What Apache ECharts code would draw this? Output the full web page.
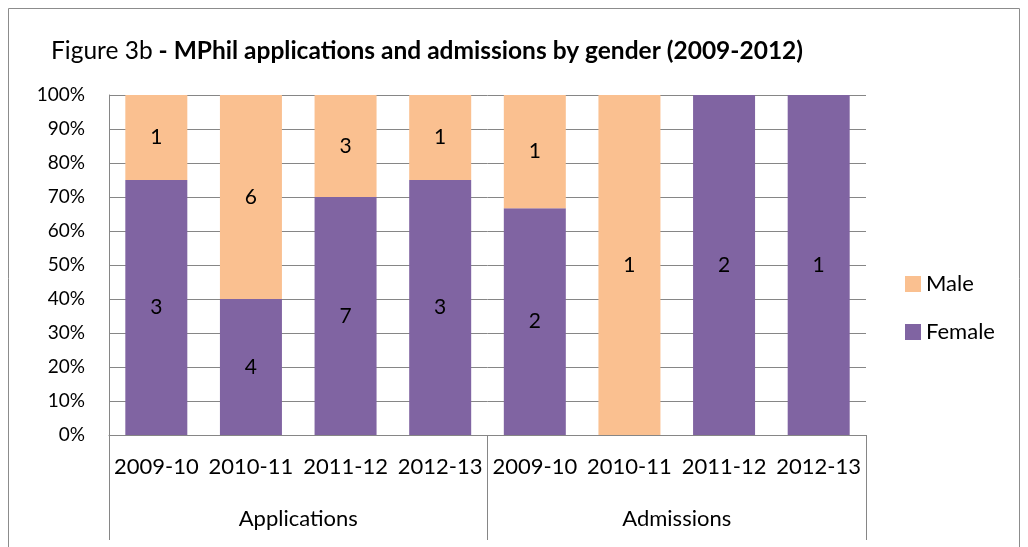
<!DOCTYPE html>
<html>
<head>
<meta charset="utf-8">
<style>
  html, body { margin: 0; padding: 0; background: #fff; }
  #chart { width: 1028px; height: 547px; }
</style>
<script src="https://cdn.jsdelivr.net/npm/echarts@6/dist/echarts.min.js"></script>
</head>
<body>
<div id="chart"></div>
<script>
  // 年份 / 分组
  const years = ['2009-10', '2010-11', '2011-12', '2012-13', '2009-10', '2010-11', '2011-12', '2012-13']
  const groups = ['Applications', 'Admissions']
  // counts
  const female = [3, 4, 7, 3, 2, 0, 2, 1]
  const male = [1, 6, 3, 1, 1, 1, 0, 0]
  const yTicks = [0, 10, 20, 30, 40, 50, 60, 70, 80, 90, 100]

  const FONT = 'Lato'
  const GRID_COLOR = '#868686'

  // 100% stacked: share of each gender, keep raw count for the label
  let femalePct = []
  let malePct = []
  for (let i = 0; i < female.length; i++) {
    let total = female[i] + male[i]
    femalePct.push({ value: total ? female[i] / total * 100 : 0, count: female[i] })
    malePct.push({ value: total ? male[i] / total * 100 : 0, count: male[i] })
  }

  let countLabel = {
    show: true,
    position: 'inside',
    color: '#000',
    fontFamily: FONT,
    fontSize: 21,
    formatter: (p) => p.data.count ? String(p.data.count) : ''
  }

  let myChart = echarts.init(document.getElementById('chart'))
  let option = {
    animation: false,
    textStyle: { fontFamily: FONT },
    title: {
      text: '{n|Figure 3b}{b| - MPhil applications and admissions by gender (2009-2012)}',
      left: 46,
      top: 34,
      textStyle: {
        fontWeight: 'normal',
        rich: {
          n: { fontFamily: FONT, fontSize: 24.5, fontWeight: 'normal', color: '#000' },
          b: { fontFamily: FONT, fontSize: 24.5, fontWeight: 'bold', color: '#000' }
        }
      }
    },
    graphic: [{
      type: 'rect',
      shape: { x: 8.5, y: 8.5, width: 1011, height: 600 },
      style: { fill: 'none', stroke: '#8c8c8c', lineWidth: 1 },
      silent: true
    }],
    legend: {
      data: ['Male', 'Female'],
      orient: 'vertical',
      left: 900,
      top: 268,
      itemWidth: 16,
      itemHeight: 16,
      itemGap: 26,
      icon: 'rect',
      textStyle: { fontFamily: FONT, fontSize: 22, color: '#000' }
    },
    grid: {
      left: 109,
      right: 162,
      top: 95,
      bottom: 112,
      containLabel: false
    },
    xAxis: [
      {
        type: 'category',
        data: years,
        axisLine: { show: true, lineStyle: { color: GRID_COLOR } },
        axisTick: { show: false },
        axisLabel: { color: '#000', fontFamily: FONT, fontSize: 22, margin: 21, interval: 0 }
      },
      {
        type: 'category',
        data: groups,
        position: 'bottom',
        axisLine: { show: false },
        axisTick: { show: true, length: 105, lineStyle: { color: GRID_COLOR } },
        axisLabel: { color: '#000', fontFamily: FONT, fontSize: 22, margin: 73, interval: 0 }
      }
    ],
    yAxis: {
      type: 'value',
      min: yTicks[0],
      max: yTicks[yTicks.length - 1],
      interval: 10,
      axisLine: { show: true, lineStyle: { color: GRID_COLOR } },
      axisTick: { show: false },
      splitLine: { show: true, lineStyle: { color: GRID_COLOR } },
      axisLabel: { color: '#000', fontFamily: FONT, fontSize: 19, margin: 24, formatter: '{value}%' }
    },
    series: [
      {
        name: 'Female',
        type: 'bar',
        stack: 'total',
        barWidth: 62,
        itemStyle: { color: '#8064A2' },
        label: countLabel,
        data: femalePct
      },
      {
        name: 'Male',
        type: 'bar',
        stack: 'total',
        barWidth: 62,
        itemStyle: { color: '#FAC090' },
        label: countLabel,
        data: malePct
      }
    ]
  }

  myChart.setOption(option)
</script>
</body>
</html>
